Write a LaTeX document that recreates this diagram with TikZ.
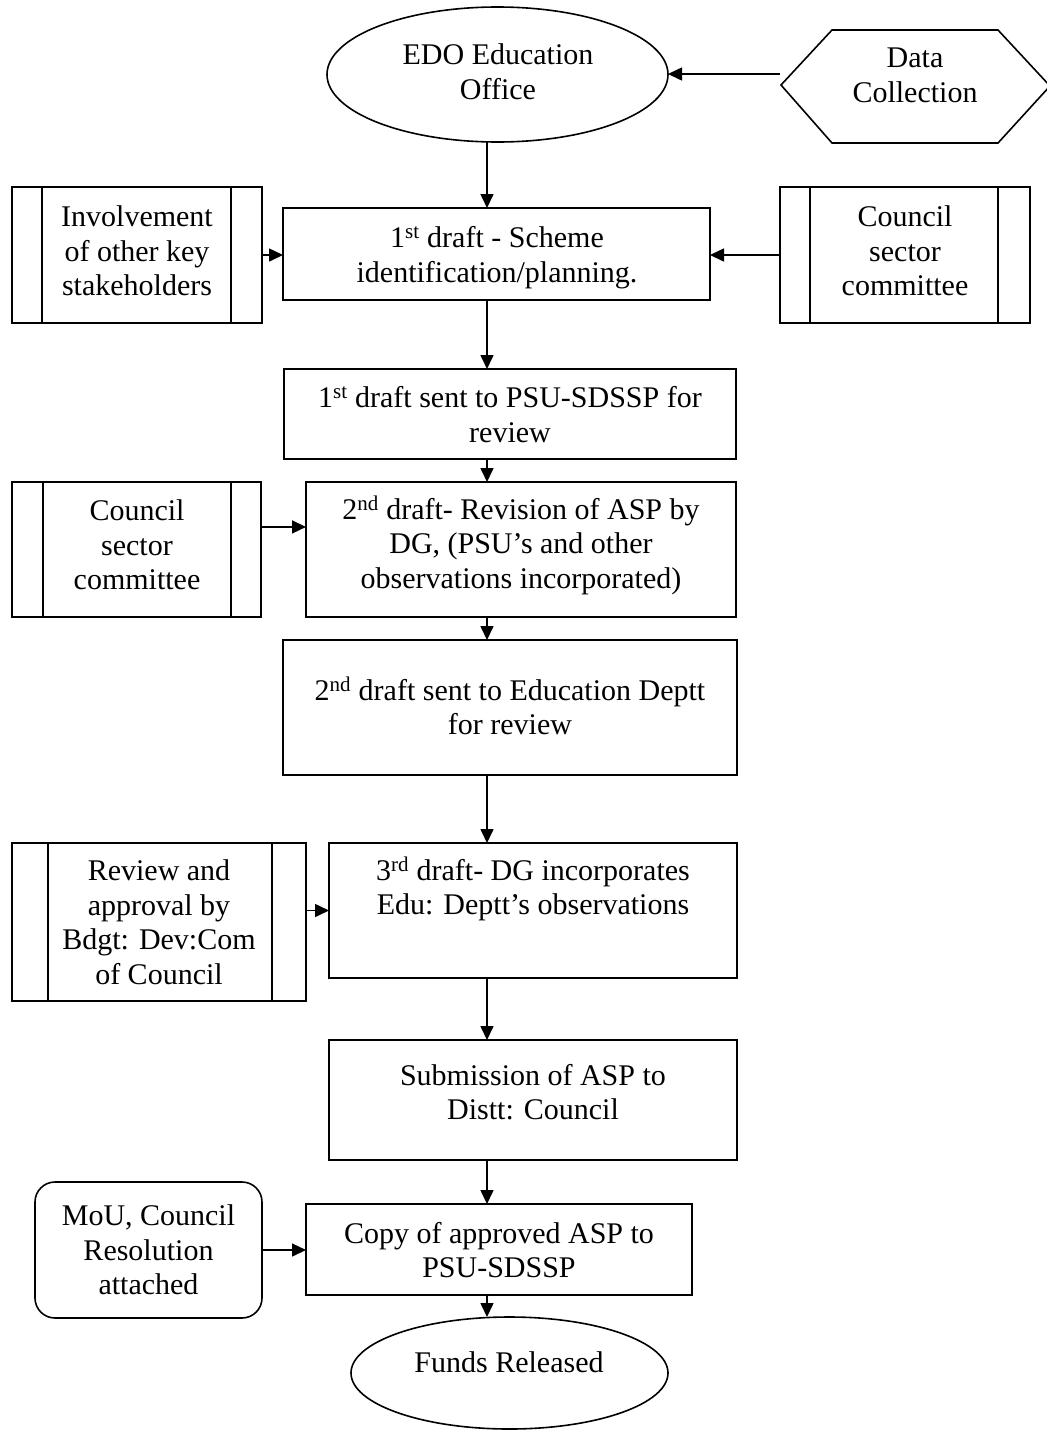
\documentclass[tikz,border=0pt]{standalone}
\usepackage{fontspec}
\setmainfont{Liberation Serif}
\usetikzlibrary{arrows.meta,calc,shapes.geometric}
\begin{document}
\begin{tikzpicture}[x=1pt,y=-1pt,
  box/.style={draw, line width=1.6pt, inner sep=0pt, outer sep=0pt, rectangle},
  oval/.style={draw, line width=1.6pt, inner sep=0pt, outer sep=0pt, ellipse},
  bar/.style={line width=1.4pt},
  txt/.style={align=center, inner sep=0pt, font=\fontsize{30}{34.5}\selectfont},
  arr/.style={line width=1.6pt, -{Triangle[length=14pt,width=13pt]}}]
\useasboundingbox (0,0) rectangle (1047,1430);

% shapes
\node[oval, minimum width=341pt, minimum height=135pt] (edo) at (497.5,74.5) {};
\draw[line width=1.6pt] (781,85) -- (832,30) -- (998,30) -- (1050,86) -- (998,143) -- (832,143) -- cycle;
\coordinate (hexL) at (780,74);

\node[box, minimum width=250pt, minimum height=136pt] (inv) at (137,255) {};
\node[box, minimum width=427pt, minimum height=92pt] (d1) at (496.5,254) {};
\node[box, minimum width=250pt, minimum height=136pt] (csc1) at (905,255) {};
\node[box, minimum width=452pt, minimum height=90pt] (s1) at (510,414) {};
\node[box, minimum width=249pt, minimum height=135pt] (csc2) at (136.5,549.5) {};
\node[box, minimum width=430pt, minimum height=135pt] (d2) at (521,549.5) {};
\node[box, minimum width=454pt, minimum height=135pt] (s2) at (510,707.5) {};
\node[box, minimum width=294pt, minimum height=158pt] (rev) at (159,922) {};
\node[box, minimum width=408pt, minimum height=135pt] (d3) at (533,910.5) {};
\node[box, minimum width=408pt, minimum height=120pt] (sub) at (533,1100) {};
\node[box, rounded corners=20pt, minimum width=227pt, minimum height=136pt] (mou) at (148.5,1250) {};
\node[box, minimum width=386pt, minimum height=91pt] (copy) at (499,1249.5) {};
\node[oval, minimum width=317pt, minimum height=112pt] (funds) at (509.5,1373) {};

% predefined-process bars
\draw[bar] ([xshift=30pt]inv.north west) -- ([xshift=30pt]inv.south west);
\draw[bar] ([xshift=-31pt]inv.north east) -- ([xshift=-31pt]inv.south east);
\draw[bar] ([xshift=30pt]csc1.north west) -- ([xshift=30pt]csc1.south west);
\draw[bar] ([xshift=-32pt]csc1.north east) -- ([xshift=-32pt]csc1.south east);
\draw[bar] ([xshift=31pt]csc2.north west) -- ([xshift=31pt]csc2.south west);
\draw[bar] ([xshift=-30pt]csc2.north east) -- ([xshift=-30pt]csc2.south east);
\draw[bar] ([xshift=36pt]rev.north west) -- ([xshift=36pt]rev.south west);
\draw[bar] ([xshift=-34pt]rev.north east) -- ([xshift=-34pt]rev.south east);

% texts
\node[txt] (tedo) at (498,71.5) {EDO Education\\Office};
\node[txt] (tdata) at (915,75.5) {Data\\Collection};
\node[txt] (tinv) at (137,251) {Involvement\\of other key\\stakeholders};
\node[txt] (td1) at (497,257.5) {1\textsuperscript{st} draft - Scheme\\identification/planning.};
\node[txt] (tcsc1) at (905,251) {Council\\sector\\committee};
\node[txt] (ts1) at (510,414.5) {1\textsuperscript{st} draft sent to PSU-SDSSP for\\review};
\node[txt] (tcsc2) at (137,545) {Council\\sector\\committee};
\node[txt] (td2) at (521,545) {2\textsuperscript{nd} draft- Revision of ASP by\\DG, (PSU’s and other\\observations incorporated)};
\node[txt] (ts2) at (510,706) {2\textsuperscript{nd} draft sent to Education Deptt\\for review};
\node[txt] (trev) at (159,922) {Review and\\approval by\\Bdgt: Dev:Com\\of Council};
\node[txt] (td3) at (533,889) {3\textsuperscript{rd} draft- DG incorporates\\Edu: Deptt’s observations};
\node[txt] (tsub) at (533,1092) {Submission of ASP to\\Distt: Council};
\node[txt] (tmou) at (148.5,1250) {MoU, Council\\Resolution\\attached};
\node[txt] (tcopy) at (499,1250) {Copy of approved ASP to\\PSU-SDSSP};
\node[txt] (tfunds) at (509,1362) {Funds Released};

% connectors
\coordinate (vx) at (487,0);
\draw[arr] (hexL) -- (hexL -| edo.east);
\draw[arr] (edo.south -| vx) -- (d1.north -| vx);
\draw[arr] (inv.east) -- (inv.east -| d1.west);
\draw[arr] (csc1.west) -- (csc1.west -| d1.east);
\draw[arr] (d1.south -| vx) -- (s1.north -| vx);
\draw[arr] (s1.south -| vx) -- (d2.north -| vx);
\coordinate (a2) at ($(csc2.north east)!0.333!(csc2.south east)$);
\draw[arr] (a2) -- (a2 -| d2.west);
\draw[arr] (d2.south -| vx) -- (s2.north -| vx);
\draw[arr] (s2.south -| vx) -- (d3.north -| vx);
\draw[arr] (d3.west -| rev.east) -- (d3.west);
\draw[arr] (d3.south -| vx) -- (sub.north -| vx);
\draw[arr] (sub.south -| vx) -- (copy.north -| vx);
\draw[arr] (mou.east) -- (mou.east -| copy.west);
\draw[arr] (copy.south -| vx) -- (funds.north -| vx);
\end{tikzpicture}
\end{document}
